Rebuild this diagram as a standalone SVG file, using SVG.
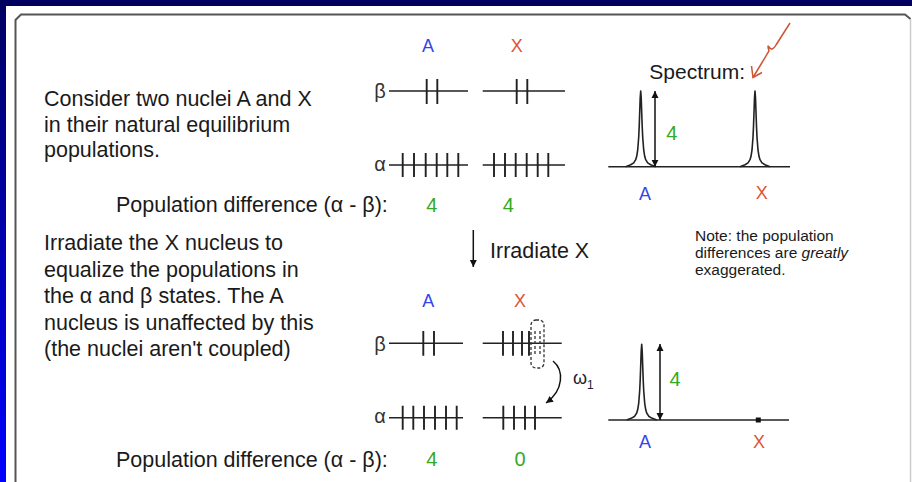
<svg xmlns="http://www.w3.org/2000/svg" width="912" height="482" viewBox="0 0 912 482">
<defs>
<linearGradient id="bg" x1="0" y1="0" x2="0" y2="1">
<stop offset="0" stop-color="#000060"/>
<stop offset="1" stop-color="#0000ff"/>
</linearGradient>
<marker id="ah" viewBox="0 0 10 10" refX="10" refY="5" markerWidth="7" markerHeight="9" markerUnits="userSpaceOnUse" orient="auto-start-reverse">
<path d="M0,0 L10,5 L0,10 z" fill="#111"/>
</marker>
<path id="peak" d="M-15,0 L-10,-1.9 L-7,-3.8 L-5,-7 L-4,-10.4 L-3,-16.7 L-2,-29.5 L-1.5,-40.3 L-1,-54.4 L-0.5,-69 L0,-75.7 L0.5,-69 L1,-54.4 L1.5,-40.3 L2,-29.5 L3,-16.7 L4,-10.4 L5,-7 L7,-3.8 L10,-1.9 L15,0" fill="none" stroke="#222" stroke-width="1.6" stroke-linejoin="round"/>
<style>
text{font-family:"Liberation Sans",Arial,sans-serif;fill:#1a1a1a}
.main{font-size:21.5px}
.note{font-size:15.5px}
.lab{font-size:18px;text-anchor:middle}
.a{fill:#3344ee}
.x{fill:#dd5533}
.g{fill:#33aa22}
.num{font-size:20px;text-anchor:middle}
.greek{font-size:20px;text-anchor:middle;fill:#333}
.lvl{stroke:#222;stroke-width:1.5;fill:none}
.tk{stroke:#222;stroke-width:1.9}
.dash{stroke:#333;stroke-width:1.3;stroke-dasharray:3,2;fill:none}
.base{stroke:#222;stroke-width:1.5;fill:none}
</style>
</defs>

<rect x="0" y="0" width="912" height="482" fill="url(#bg)"/>
<g id="panel">
<rect x="6" y="6" width="906" height="476" fill="#ffffff"/>
<path d="M15.5,482 V20 L21,14.5 H905 L910.5,19" fill="none" stroke="#555" stroke-width="2"/>
<path d="M910.5,19 V482" fill="none" stroke="#ccc" stroke-width="1.5"/>
</g>

<g id="intro-text">
<text class="main" x="44" y="106">Consider two nuclei A and X</text>
<text class="main" x="44" y="131.5">in their natural equilibrium</text>
<text class="main" x="44" y="157">populations.</text>
</g>

<g id="popdiff-top">
<text class="main" x="116" y="211.7">Population difference (α - β):</text>
<text class="num g" x="431.7" y="211.7">4</text>
<text class="num g" x="508.3" y="211.7">4</text>
</g>

<g id="levels-top">
<text class="lab a" x="428" y="52">A</text>
<text class="lab x" x="516.7" y="52">X</text>
<text class="greek" x="380" y="98">β</text>
<text class="greek" x="380" y="170.5">α</text>
<path class="lvl" d="M389,91 H468 M482.7,91 H565 M389,165 H468 M482.7,165 H565"/>
<path class="tk" d="M426.7,79 V104 M437.3,79 V104 M516.7,79 V104 M527.3,79 V104"/>
<path class="tk" d="M402.7,153 V177 M414,153 V177 M425.7,153 V177 M436.7,153 V177 M447.3,153 V177 M458.3,153 V177"/>
<path class="tk" d="M494,153 V177 M505,153 V177 M515.7,153 V177 M526.7,153 V177 M537.7,153 V177 M548.3,153 V177"/>
</g>

<g id="spectrum-top">
<text class="main" x="649.3" y="79" style="font-size:21px">Spectrum:</text>
<path class="base" d="M608.3,166.7 H790"/>
<use href="#peak" x="640.7" y="166.7"/>
<use href="#peak" x="755" y="166.7"/>
<text class="num g" x="671.7" y="140">4</text>
<text class="lab a" x="645" y="200">A</text>
<text class="lab x" x="761.7" y="198.5">X</text>
</g>

<g id="irradiate-text">
<text class="main" x="44" y="250">Irradiate the X nucleus to</text>
<text class="main" x="44" y="276.5">equalize the populations in</text>
<text class="main" x="44" y="303">the α and β states. The A</text>
<text class="main" x="44" y="329.5">nucleus is unaffected by this</text>
<text class="main" x="44" y="356">(the nuclei aren't coupled)</text>
<text class="main" x="490" y="258.3">Irradiate X</text>
</g>

<g id="note">
<text class="note" x="695" y="240.7">Note: the population</text>
<text class="note" x="695" y="258.3">differences are <tspan font-style="italic">greatly</tspan></text>
<text class="note" x="695" y="275">exaggerated.</text>
</g>

<g id="levels-bottom">
<text class="lab a" x="428.3" y="306.7">A</text>
<text class="lab x" x="520" y="306.7">X</text>
<text class="greek" x="380" y="350.5">β</text>
<text class="greek" x="380" y="423">α</text>
<path class="lvl" d="M389,343.3 H463 M482.7,343.3 H561.7 M389,417.7 H463 M482.7,417.7 H561.7"/>
<path class="tk" d="M423.3,331 V355.7 M434,331 V355.7"/>
<path class="tk" d="M503,331 V355.7 M513,331 V355.7 M522,331 V355.7 M529,331 V355.7"/>
<path class="dash" d="M535,331 V356 M540,331 V356"/>
<rect class="dash" x="531" y="320" width="13" height="48" rx="5"/>
<path class="tk" d="M402.7,405.7 V429.7 M413.3,405.7 V429.7 M424,405.7 V429.7 M435,405.7 V429.7 M446,405.7 V429.7 M456.7,405.7 V429.7"/>
<path class="tk" d="M503.3,405.7 V429.7 M514,405.7 V429.7 M525,405.7 V429.7 M535,405.7 V429.7"/>
<text x="573" y="384" style="font-size:18px;fill:#223">ω<tspan dy="5" style="font-size:12px">1</tspan></text>
</g>

<g id="popdiff-bottom">
<text class="main" x="116" y="466.7">Population difference (α - β):</text>
<text class="num g" x="431.7" y="466">4</text>
<text class="num g" x="520" y="466">0</text>
</g>

<g id="spectrum-bottom">
<path class="base" d="M608.3,420 H789"/>
<use href="#peak" x="641.7" y="420"/>
<rect x="755.8" y="417.5" width="5" height="5" fill="#111"/>
<text class="num g" x="675" y="385.7">4</text>
<text class="lab a" x="645" y="447.7">A</text>
<text class="lab x" x="759" y="447.7">X</text>
</g>

<g id="connectors">
<line x1="655" y1="91" x2="655" y2="166.7" stroke="#111" stroke-width="1.5" marker-start="url(#ah)" marker-end="url(#ah)"/>
<line x1="660" y1="344" x2="660" y2="420" stroke="#111" stroke-width="1.5" marker-start="url(#ah)" marker-end="url(#ah)"/>
<line x1="473.3" y1="230" x2="473.3" y2="267" stroke="#111" stroke-width="1.5" marker-end="url(#ah)"/>
<path d="M553,361 C564,370 564,390 546,403" fill="none" stroke="#111" stroke-width="1.5" marker-end="url(#ah)"/>
<path d="M790,23 L776,45 Q772,52 769,47 Q767,44 769,51 L753,77.5" fill="none" stroke="#cc5533" stroke-width="1.5"/>
<path d="M751.5,66 L753,77.5 L762,72.5" fill="none" stroke="#cc5533" stroke-width="1.5"/>
</g>
</svg>
